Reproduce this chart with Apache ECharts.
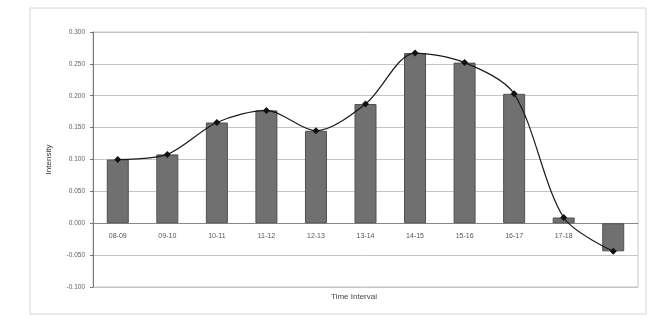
<!DOCTYPE html>
<html>
<head>
<meta charset="utf-8">
<script src="https://cdn.jsdelivr.net/npm/echarts@6/dist/echarts.min.js"></script>
<style>
  html, body { margin: 0; padding: 0; background: #fff; }
  #chart { width: 652px; height: 320px; }
</style>
</head>
<body>
<div id="chart"></div>
<script>
// Hourly intervals and measured intensity for each
const intervals = ['08-09', '09-10', '10-11', '11-12', '12-13', '13-14', '14-15', '15-16', '16-17', '17-18', '18-19'];
const intensity = [0.100, 0.108, 0.158, 0.177, 0.145, 0.187, 0.267, 0.252, 0.203, 0.009, -0.044];

const yMin = -0.10;
const yMax = 0.30;
const yStep = 0.05;

const gridTop = 32;
const gridBottom = 33;
const plotHeight = 320 - gridTop - gridBottom;
// distance from the bottom edge of the plot up to the zero line
const zeroOffset = plotHeight * (0 - yMin) / (yMax - yMin);

const chart = echarts.init(document.getElementById('chart'), null, { renderer: 'canvas' });

chart.setOption({
  backgroundColor: '#ffffff',
  animation: false,
  graphic: [
    {
      type: 'rect',
      shape: { x: 30, y: 8, width: 616, height: 306 },
      style: { fill: 'none', stroke: '#d4d4d4', lineWidth: 1 },
      z: -1
    },
    {
      // x-axis title, placed under the plot area
      type: 'text',
      x: 354, y: 297,
      style: {
        text: 'Time Interval',
        fill: '#444', fontSize: 8, fontFamily: 'Liberation Sans',
        align: 'center', verticalAlign: 'middle'
      }
    }
  ],
  grid: {
    left: 93, right: 14, top: gridTop, bottom: gridBottom,
    containLabel: false,
    outerBoundsMode: 'none',
    show: true, borderColor: '#c8c8c8', borderWidth: 1
  },
  xAxis: {
    type: 'category',
    data: intervals,
    position: 'bottom',
    offset: -Math.round(zeroOffset),
    axisLine: { onZero: false, lineStyle: { color: '#888', width: 1 } },
    axisTick: { show: false },
    axisLabel: { color: '#555', fontSize: 7, fontFamily: 'Liberation Sans', margin: 10 },
    splitLine: { show: false }
  },
  yAxis: {
    type: 'value',
    min: yMin, max: yMax, interval: yStep,
    name: 'Intensity',
    nameLocation: 'middle',
    nameGap: 40,
    nameRotate: 90,
    nameTextStyle: { color: '#333', fontSize: 8, fontFamily: 'Liberation Sans' },
    axisLine: { show: true, lineStyle: { color: '#777', width: 1 } },
    axisTick: { show: true, length: 3, lineStyle: { color: '#777' } },
    axisLabel: {
      color: '#666', fontSize: 6.5, fontFamily: 'Liberation Sans', margin: 8,
      formatter: v => v.toFixed(3)
    },
    splitLine: { show: true, lineStyle: { color: '#c4c4c4', width: 1 } }
  },
  series: [
    {
      type: 'bar',
      data: intensity,
      barWidth: 22,
      itemStyle: { color: '#707070', borderColor: '#505050', borderWidth: 1 },
      z: 2
    },
    {
      type: 'line',
      data: intensity,
      smooth: 0.3,
      symbol: 'diamond',
      symbolSize: 7,
      lineStyle: { color: '#1a1a1a', width: 1.2 },
      itemStyle: { color: '#111' },
      z: 3
    }
  ]
});
</script>
</body>
</html>
